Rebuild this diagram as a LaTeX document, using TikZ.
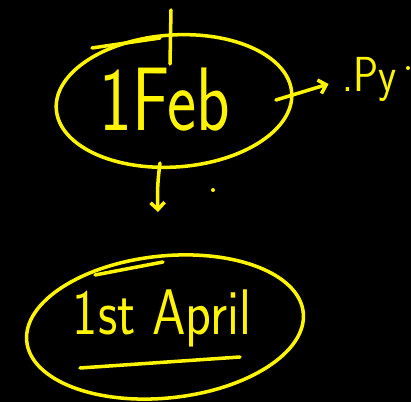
\documentclass[tikz,border=0pt]{standalone}
\usepackage{graphicx}
\usetikzlibrary{arrows.meta}
\definecolor{penyellow}{RGB}{255,245,0}
\tikzset{
  pen/.style={draw=penyellow, line width=3pt, line cap=round, line join=round},
  ink/.style={text=penyellow, inner sep=0pt, font=\sffamily},
  barb/.style={-{Straight Barb[length=6pt,width=12pt]}}
}

\begin{document}
\begin{tikzpicture}[x=0.03cm, y=-0.03cm]
    \fill[black] (0,0) rectangle (411,402);
    \useasboundingbox (0,0) rectangle (411,402);

    \coordinate (E1) at (174,101);
    \coordinate (E2) at (165,327);
    \coordinate (T1) at (171,10);
    \coordinate (T2) at (170,64);
    \coordinate (R1) at (276,100);
    \coordinate (D1) at (160,163);
    \coordinate (D2) at (158,212);
    \coordinate (U1) at (80,368);
    \coordinate (U2) at (240,357);

    % first date
    \draw[pen, rotate around={4:(E1)}] (E1) ellipse [x radius=118, y radius=66];
    \draw[pen] (92,48) -- (160,38);
    \draw[pen] (T1) -- (T2);
    \node[ink] (feb) at (165,100) {\fontsize{77}{80}\selectfont\scalebox{0.77}[1]{1Feb}};

    \node[ink, anchor=base west] (py) at (342,92) {\fontsize{42}{46}\selectfont\scalebox{0.85}[1]{.Py}};
    \fill[penyellow] (408,68) circle (2);
    \fill[penyellow] (213,190) circle (2);

    \draw[pen, barb, shorten >=12pt] (R1) -- (py.west);
    \draw[pen, barb] (D1) to[bend right=5] (D2);

    % second date
    \draw[pen, rotate around={6:(E2)}] (E2) ellipse [x radius=139, y radius=71];
    \draw[pen] (95,275) -- (163,262);
    \node[ink] (apr) at (162,318) {\fontsize{55}{60}\selectfont\scalebox{0.83}[1]{1st April}};
    \draw[pen] (U1) -- (U2);
\end{tikzpicture}
\end{document}
